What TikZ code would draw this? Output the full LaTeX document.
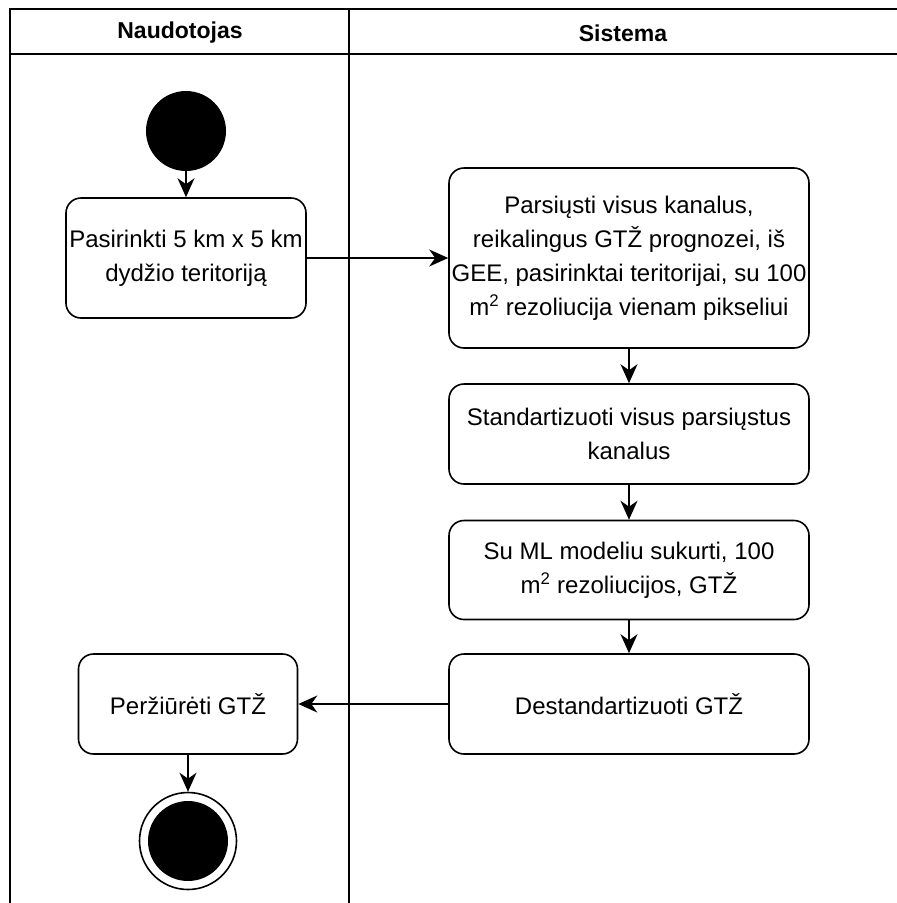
\documentclass[tikz,border=0pt]{standalone}
\usepackage{fontspec}
\setmainfont{Liberation Sans}
\usetikzlibrary{arrows.meta}

\begin{document}
\begin{tikzpicture}[x=1pt,y=-1pt,
    act/.style={draw, rounded corners=15pt, line width=1.6pt, align=center, inner sep=0pt, font=\fontsize{24}{34}\selectfont},
    lane/.style={font=\fontsize{23}{28}\selectfont\bfseries},
    flow/.style={line width=1.6pt, -{Stealth[length=19pt,width=17pt,inset=6pt]}}]
		\useasboundingbox (0,0) rectangle (897,903);
		% swimlanes
		\draw[line width=2pt] (897,9) -- (10,9) -- (10,903);
		\draw[line width=2pt] (10,54) -- (897,54);
		\draw[line width=2pt] (349,9) -- (349,903);
		\node[lane] (l1) at (180,33) {Naudotojas};
		\node[lane] (l2) at (623,33) {Sistema};
		% actions
		\node[circle, fill, minimum size=80pt, inner sep=0pt] (s) at (186,131) {};
		\node[act, minimum width=240pt, minimum height=120pt] (a1) at (186,258) {Pasirinkti 5 km x 5 km\\dydžio teritoriją};
		\node[act, minimum width=360pt, minimum height=180pt] (a2) at (629,258) {Parsiųsti visus kanalus,\\reikalingus GTŽ prognozei, iš\\GEE, pasirinktai teritorijai, su 100\\m\textsuperscript{2} rezoliucija vienam pikseliui};
		\node[act, minimum width=360pt, minimum height=100pt] (a3) at (629,434) {Standartizuoti visus parsiųstus\\kanalus};
		\node[act, minimum width=360pt, minimum height=99pt] (a4) at (629,570) {Su ML modeliu sukurti, 100\\m\textsuperscript{2} rezoliucijos, GTŽ};
		\node[act, minimum width=360pt, minimum height=100pt] (a5) at (629,704) {Destandartizuoti GTŽ};
		\node[act, minimum width=219pt, minimum height=100pt] (a6) at (188,704) {Peržiūrėti GTŽ};
		\node[circle, draw, line width=1.6pt, minimum size=97pt, inner sep=0pt] (e) at (188,841) {};
		\fill (e.center) circle (40pt);
		% flows
		\draw[flow] (s) -- (a1);
		\draw[flow] (a1) -- (a2);
		\draw[flow] (a2) -- (a3);
		\draw[flow] (a3) -- (a4);
		\draw[flow] (a4) -- (a5);
		\draw[flow] (a5) -- (a6);
		\draw[flow] (a6) -- (e);
	\end{tikzpicture}
\end{document}
